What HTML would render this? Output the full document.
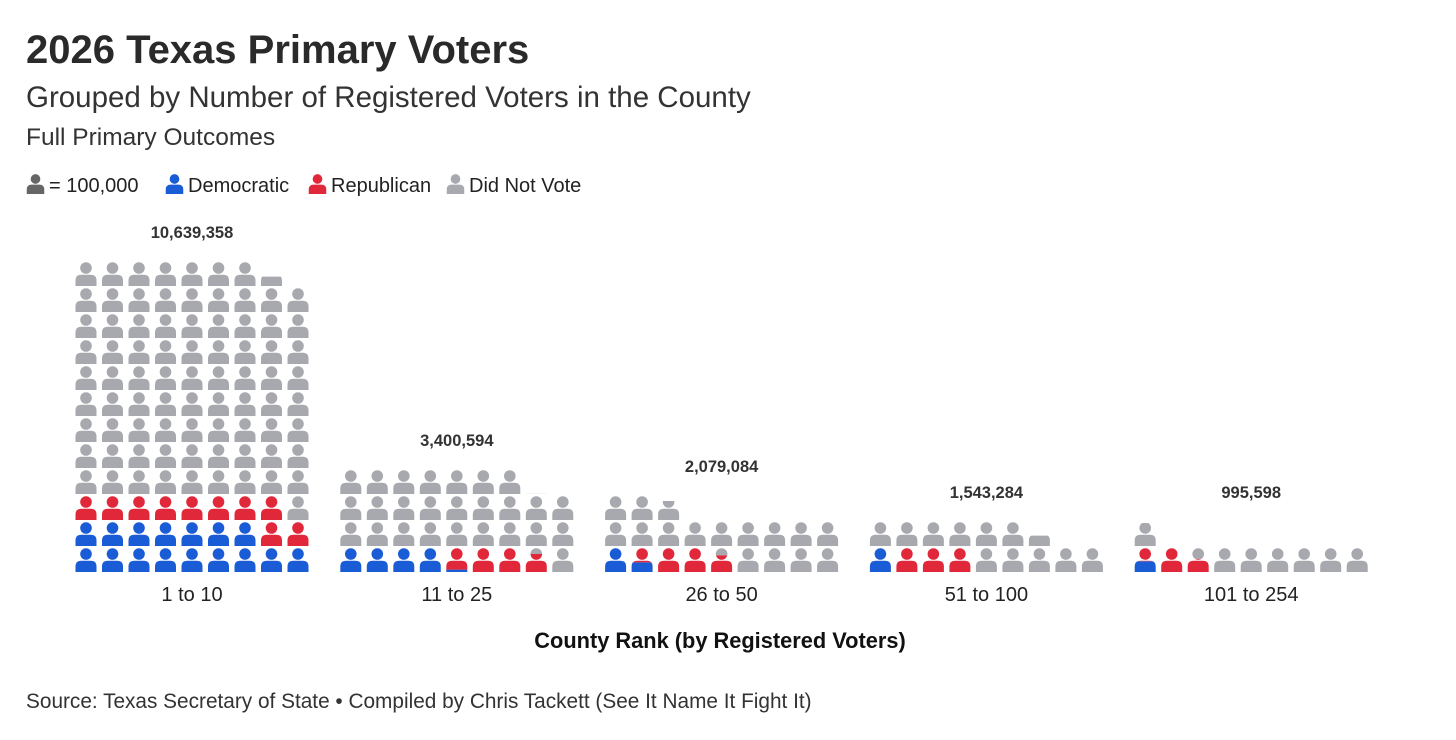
<!DOCTYPE html>
<html><head><meta charset="utf-8">
<style>
body{margin:0;background:#fff;width:1456px;height:740px;overflow:hidden;font-family:"Liberation Sans",sans-serif;color:#222}
svg{position:absolute;left:0;top:0}
</style></head>
<body>
<svg width="1456" height="740" viewBox="0 0 1456 740">
<defs>
<symbol id="person" viewBox="0 0 22 24" overflow="visible">
<circle cx="11" cy="6" r="5.8"/>
<path d="M0.5,24 L0.5,18.5 Q0.5,12.8 6.5,12.8 L15.5,12.8 Q21.5,12.8 21.5,18.5 L21.5,24 Z"/>
</symbol>
</defs>
<text x="26" y="63" font-size="40" font-weight="bold" fill="#2a2a2a">2026 Texas Primary Voters</text>
<text x="26" y="107" font-size="29.5" fill="#333">Grouped by Number of Registered Voters in the County</text>
<text x="26" y="145" font-size="24.5" fill="#333">Full Primary Outcomes</text>
<g id="legend" font-size="20" fill="#222"></g>
<g id="groups"></g>
<text x="720" y="648" text-anchor="middle" font-size="21.8" font-weight="bold" fill="#111">County Rank (by Registered Voters)</text>
<text x="26" y="708" font-size="20.8" fill="#333">Source: Texas Secretary of State • Compiled by Chris Tackett (See It Name It Fight It)</text>
</svg>
<script>
const categories = ["1 to 10","11 to 25","26 to 50","51 to 100","101 to 254"];
const totalLabels = ["10,639,358","3,400,594","2,079,084","1,543,284","995,598"];
const totals = [106.39, 34.006, 20.79, 15.43, 9.96];
const democratic = [16.0, 4.1, 1.4, 1.0, 0.45];
const republican = [10.0, 3.65, 3.3, 3.0, 2.1];

const NS="http://www.w3.org/2000/svg";
const colors={dem:"#1a5bd6",rep:"#e0283a",gray:"#a7a9ae"};
const COLS=9, DX=26.5, DY=26, BASE=572, ICON_H=24, ICON_W=22;
const groupX=i=>75+i*264.8;
const colX=(g,c)=>groupX(g)+c*DX;
const rowY=r=>BASE-r*DY;
const g=document.getElementById('groups');
function mk(tag,attrs,parent){const e=document.createElementNS(NS,tag);for(const k in attrs)e.setAttribute(k,attrs[k]);parent.appendChild(e);return e;}
let clipId=0;
const defs=document.querySelector('defs');
function icon(parent,x,yb,color,f0,f1){
  const id='c'+(clipId++);
  const cp=mk('clipPath',{id:id,clipPathUnits:'userSpaceOnUse'},defs);
  mk('rect',{x:x-1,y:yb-ICON_H*f1,width:ICON_W+2,height:ICON_H*(f1-f0)+0.01},cp);
  const wrap=mk('g',{'clip-path':'url(#'+id+')'},parent);
  mk('use',{href:'#person',x:x,y:yb-ICON_H,width:ICON_W,height:ICON_H,fill:color},wrap);
  return wrap;
}
categories.forEach((cat,gi)=>{
  const grp=mk('g',{},g);
  
  
  const segs=[[0,democratic[gi],colors.dem],[democratic[gi],democratic[gi]+republican[gi],colors.rep],[democratic[gi]+republican[gi],totals[gi],colors.gray]];
  const n=Math.ceil(totals[gi]);
  for(let i=0;i<n;i++){
    const r=Math.floor(i/COLS), c=i%COLS;
    const x=colX(gi,c), yb=rowY(r);
    segs.forEach(([a,b,col])=>{
      const lo=Math.max(a,i), hi=Math.min(b,i+1);
      if(hi>lo){
        const u=icon(grp,x,yb,col,lo-i,hi-i);
        
        
      }
    });
  }
  const rows=Math.ceil(totals[gi]/COLS);
  const cx=colX(gi,4)+ICON_W/2;
  const tl=mk('text',{x:cx,y:rowY(rows-1)-ICON_H-24,'text-anchor':'middle','font-size':16.5,'font-weight':'bold',fill:'#333'},grp);
  tl.textContent=totalLabels[gi];
  
  
  const cl=mk('text',{x:cx,y:601,'text-anchor':'middle','font-size':20,fill:'#222'},grp);
  cl.textContent=cat;
  
  
});
const leg=document.getElementById('legend');
const legItems=[["#666","= 100,000",26],[colors.dem,"Democratic",165],[colors.rep,"Republican",308],[colors.gray,"Did Not Vote",446]];
legItems.forEach(([col,label,x])=>{
  const e=mk('g',{},leg);
  
  
  mk('use',{href:'#person',x:x,y:174,width:19,height:20,fill:col},e);
  const t=mk('text',{x:x+23,y:192},e);
  t.textContent=label;
});
</script>
</body></html>
